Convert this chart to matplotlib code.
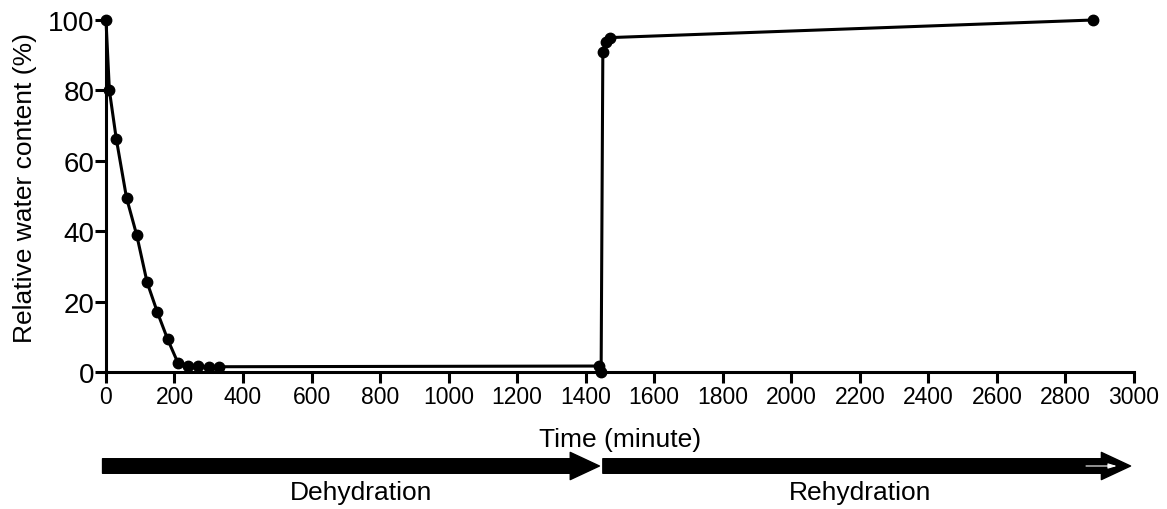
import matplotlib
matplotlib.use("Agg")
import matplotlib.pyplot as plt
import matplotlib.transforms as mtransforms

plt.rcParams['font.family'] = ['Liberation Sans', 'DejaVu Sans']

# time (minute) and relative water content (%)
time_min = [0, 10, 30, 60, 90, 120, 150, 180, 210, 240, 270, 300, 330,
            1440, 1445, 1450, 1460, 1470, 2880]
rwc = [100, 80, 66.3, 49.5, 38.8, 25.5, 17.0, 9.3, 2.6, 1.8, 1.6, 1.5, 1.5,
       1.7, 0.0, 90.8, 93.7, 95.0, 100]

x_ticks = list(range(0, 3001, 200))
y_ticks = [0, 20, 40, 60, 80, 100]
phases = ["Dehydration", "Rehydration"]
phase_bounds = [(-10, 1440), (1450, 2990)]
phase_label_x = [744, 2200]

fig = plt.figure(figsize=(11.67, 5.10), dpi=100)
ax = fig.add_axes([0.0908, 0.2686, 0.8809, 0.6902])

ax.plot(time_min, rwc, color='black', lw=2.2, marker='o', ms=7.5,
        clip_on=False, zorder=3)

ax.set_xlim(0, 3000)
ax.set_ylim(0, 100)
ax.set_xticks(x_ticks)
ax.set_yticks(y_ticks)
ax.tick_params(axis='x', labelsize=16.5, width=2.2, length=8, direction='out', pad=1)
ax.tick_params(axis='y', labelsize=20, width=2.2, length=8, direction='out', pad=0)
for s in ['top', 'right']:
    ax.spines[s].set_visible(False)
for s in ['left', 'bottom']:
    ax.spines[s].set_linewidth(2.2)

ax.set_xlabel("Time (minute)", fontsize=19, labelpad=14)
ax.set_ylabel("Relative water content (%)", fontsize=19, labelpad=8.5)
ax.yaxis.label.set_y(0.525)

# phase arrows under the axis
trans = mtransforms.blended_transform_factory(ax.transData, ax.transAxes)
for name, (x0, x1), lx in zip(phases, phase_bounds, phase_label_x):
    ax.annotate("", xy=(x1, -0.267), xytext=(x0, -0.267),
                xycoords=trans, textcoords=trans, annotation_clip=False,
                arrowprops=dict(arrowstyle='simple,head_length=1.5,head_width=1.4,tail_width=0.75',
                                fc='black', ec='black', mutation_scale=14,
                                shrinkA=0, shrinkB=0))
    ax.text(lx, -0.34, name, transform=trans, ha='center',
            va='center', fontsize=19)

# thin white stroke inside the tip of the rehydration arrow
ax.annotate("", xy=(2950, -0.267), xytext=(2860, -0.267),
            xycoords=trans, textcoords=trans, annotation_clip=False,
            arrowprops=dict(arrowstyle='-|>,head_length=0.5,head_width=0.15',
                            color='white', lw=0.8, shrinkA=0, shrinkB=0))

fig.savefig("out.png", dpi=100)
